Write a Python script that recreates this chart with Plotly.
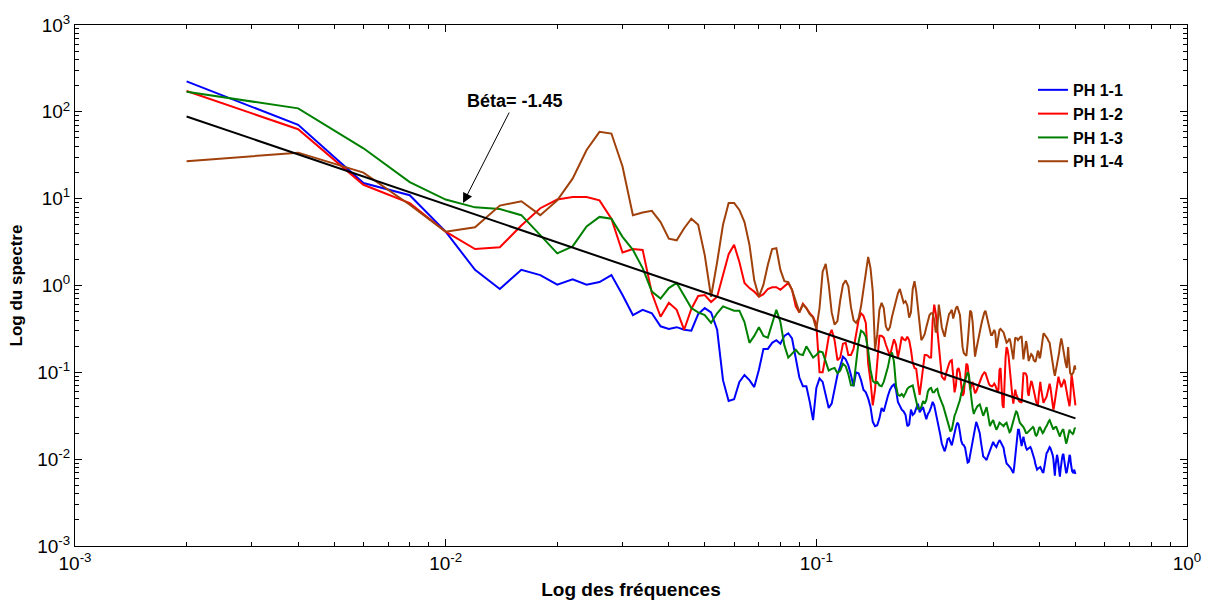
import numpy as np
import plotly.graph_objects as go

# Frequency grid: 250 harmonics with a step of 0.002
freq_step = 0.002
n_points = 250
freqs = freq_step * np.arange(1, n_points + 1)

# log10 of the spectrum for each profile
log_ph11 = [
    2.35, 1.85, 1.18, 1.04, 0.62, 0.18, -0.04, 0.18, 0.12, 0.01,
    0.07, 0.01, 0.04, 0.12, -0.11, -0.34, -0.28, -0.32, -0.47, -0.50,
    -0.48, -0.51, -0.52, -0.33, -0.26, -0.31, -0.51, -1.09, -1.33, -1.31,
    -1.11, -1.03, -1.09, -1.17, -0.97, -0.73, -0.73, -0.66, -0.63, -0.67,
    -0.58, -0.55, -0.61, -0.86, -1.06, -1.16, -1.16, -1.34, -1.55, -1.18,
    -1.07, -1.11, -1.27, -1.41, -1.36, -1.18, -1.03, -0.93, -0.82, -0.85,
    -0.92, -1.03, -1.16, -1.00, -1.01, -1.09, -1.20, -1.23, -1.30, -1.40,
    -1.57, -1.62, -1.61, -1.53, -1.41, -1.45, -1.35, -1.27, -1.20, -1.16,
    -1.14, -1.20, -1.34, -1.39, -1.43, -1.45, -1.49, -1.62, -1.60, -1.43,
    -1.49, -1.47, -1.42, -1.36, -1.46, -1.43, -1.40, -1.47, -1.54, -1.48,
    -1.45, -1.40, -1.34, -1.38, -1.46, -1.54, -1.63, -1.72, -1.82, -1.86,
    -1.91, -1.85, -1.77, -1.76, -1.80, -1.84, -1.77, -1.69, -1.63, -1.58,
    -1.60, -1.69, -1.79, -1.83, -1.84, -1.87, -1.96, -2.04, -2.03, -1.95,
    -1.91, -1.80, -1.72, -1.64, -1.57, -1.61, -1.65, -1.70, -1.80, -1.89,
    -1.97, -1.98, -2.00, -2.01, -1.97, -1.93, -1.89, -1.86, -1.83, -1.80,
    -1.83, -1.85, -1.86, -1.83, -1.80, -1.78, -1.80, -1.83, -1.85, -1.87,
    -1.94, -2.00, -2.05, -2.06, -2.07, -2.08, -2.10, -2.12, -2.15, -2.16,
    -2.08, -1.99, -1.89, -1.80, -1.66, -1.66, -1.74, -1.82, -1.85, -1.79,
    -1.74, -1.79, -1.84, -1.87, -1.89, -1.88, -1.87, -1.86, -1.86, -1.88,
    -1.91, -1.93, -1.96, -2.01, -2.06, -2.10, -2.12, -2.11, -2.10, -2.09,
    -2.09, -2.11, -2.14, -2.15, -2.15, -2.09, -2.03, -1.97, -1.93, -1.92,
    -1.89, -1.88, -1.86, -1.87, -1.89, -1.93, -1.95, -2.00, -2.12, -2.19,
    -2.07, -1.95, -1.95, -1.99, -2.05, -2.12, -2.20, -2.12, -2.03, -1.99,
    -1.95, -1.94, -2.00, -2.07, -2.11, -2.16, -2.15, -2.11, -2.08, -2.01,
    -1.95, -1.97, -2.05, -2.11, -2.14, -2.15, -2.16, -2.12, -2.15, -2.17,
]

log_ph12 = [
    2.24, 1.80, 1.16, 0.95, 0.62, 0.42, 0.44, 0.69, 0.89, 0.99,
    1.02, 1.02, 0.98, 0.77, 0.38, 0.42, 0.41, -0.09, -0.36, -0.20,
    -0.28, -0.51, -0.27, -0.12, -0.11, -0.19, -0.13, 0.12, 0.36, 0.47,
    0.27, 0.03, -0.03, -0.07, -0.13, -0.10, -0.04, -0.02, -0.02, -0.05,
    -0.01, 0.03, -0.05, -0.24, -0.31, -0.21, -0.26, -0.32, -0.36, -0.45,
    -1.00, -1.00, -0.80, -0.59, -0.51, -0.63, -0.86, -0.83, -0.67, -0.66,
    -0.80, -0.80, -0.73, -0.57, -0.40, -0.32, -0.35, -0.43, -0.90, -1.10,
    -1.38, -1.20, -0.88, -0.58, -0.58, -0.60, -0.68, -0.75, -0.81, -0.71,
    -0.62, -0.68, -0.83, -0.72, -0.59, -0.62, -0.63, -0.59, -0.63, -0.74,
    -0.89, -0.95, -0.96, -1.12, -1.26, -1.11, -0.95, -0.80, -0.80, -0.81,
    -0.83, -0.83, -0.40, -0.22, -0.32, -0.51, -0.77, -0.92, -1.05, -1.07,
    -1.09, -1.01, -0.95, -0.90, -0.87, -0.86, -1.04, -1.23, -1.15, -0.97,
    -0.95, -1.01, -1.15, -1.27, -1.24, -1.07, -0.90, -0.92, -1.07, -1.20,
    -1.15, -1.11, -1.18, -1.24, -1.22, -1.18, -1.16, -1.12, -1.08, -1.04,
    -1.02, -1.00, -1.01, -1.05, -1.11, -1.13, -1.15, -1.16, -1.16, -1.15,
    -1.13, -1.15, -1.18, -1.22, -1.20, -0.97, -0.95, -1.18, -1.38, -1.41,
    -1.03, -0.83, -0.71, -0.74, -0.81, -0.95, -1.09, -1.19, -1.28, -1.36,
    -1.27, -1.20, -1.25, -1.28, -1.32, -1.33, -1.34, -1.34, -1.35, -1.15,
    -1.01, -1.01, -1.01, -1.02, -1.05, -1.23, -1.27, -1.20, -1.16, -1.10,
    -1.12, -1.17, -1.23, -1.28, -1.32, -1.34, -1.36, -1.39, -1.27, -1.13,
    -1.11, -1.19, -1.26, -1.32, -1.35, -1.33, -1.32, -1.30, -1.28, -1.24,
    -1.20, -1.17, -1.13, -1.17, -1.24, -1.32, -1.38, -1.43, -1.39, -1.33,
    -1.28, -1.25, -1.18, -1.10, -1.05, -1.09, -1.11, -1.15, -1.17, -1.15,
    -1.12, -1.10, -1.09, -1.10, -1.15, -1.22, -1.25, -1.30, -1.32, -1.35,
    -1.39, -1.32, -1.18, -1.03, -1.07, -1.13, -1.18, -1.23, -1.30, -1.38,
]

log_ph13 = [
    2.23, 2.04, 1.58, 1.19, 0.99, 0.90, 0.88, 0.81, 0.58, 0.37,
    0.45, 0.68, 0.79, 0.77, 0.56, 0.41, 0.20, -0.07, -0.15, -0.03,
    0.03, -0.11, -0.26, -0.31, -0.34, -0.43, -0.32, -0.24, -0.27, -0.29,
    -0.29, -0.42, -0.66, -0.58, -0.48, -0.58, -0.60, -0.44, -0.28, -0.42,
    -0.69, -0.83, -0.78, -0.74, -0.79, -0.80, -0.70, -0.77, -0.83, -0.80,
    -0.76, -0.77, -0.89, -0.98, -0.96, -0.95, -1.01, -0.98, -0.90, -0.93,
    -1.02, -1.15, -1.15, -0.92, -0.65, -0.52, -0.54, -0.59, -0.75, -0.97,
    -1.10, -1.12, -1.11, -1.15, -1.16, -1.11, -1.03, -0.94, -0.82, -0.77,
    -0.88, -1.15, -1.26, -1.27, -1.25, -1.28, -1.24, -1.19, -1.17, -1.16,
    -1.15, -1.24, -1.34, -1.42, -1.42, -1.40, -1.33, -1.36, -1.32, -1.22,
    -1.19, -1.18, -1.23, -1.23, -1.20, -1.19, -1.26, -1.32, -1.35, -1.39,
    -1.45, -1.49, -1.56, -1.64, -1.68, -1.66, -1.56, -1.50, -1.46, -1.41,
    -1.36, -1.32, -1.24, -1.19, -1.13, -1.08, -1.02, -1.00, -1.03, -1.20,
    -1.30, -1.41, -1.48, -1.44, -1.41, -1.39, -1.38, -1.37, -1.41, -1.47,
    -1.50, -1.47, -1.44, -1.40, -1.47, -1.55, -1.62, -1.59, -1.56, -1.55,
    -1.59, -1.63, -1.66, -1.64, -1.60, -1.58, -1.59, -1.60, -1.62, -1.62,
    -1.60, -1.59, -1.58, -1.62, -1.65, -1.69, -1.68, -1.63, -1.58, -1.55,
    -1.52, -1.48, -1.45, -1.46, -1.49, -1.54, -1.58, -1.59, -1.60, -1.62,
    -1.63, -1.65, -1.68, -1.70, -1.70, -1.69, -1.68, -1.66, -1.66, -1.64,
    -1.63, -1.63, -1.64, -1.69, -1.72, -1.73, -1.72, -1.69, -1.65, -1.63,
    -1.64, -1.66, -1.69, -1.70, -1.69, -1.66, -1.64, -1.63, -1.62, -1.59,
    -1.57, -1.56, -1.55, -1.57, -1.60, -1.63, -1.65, -1.66, -1.64, -1.63,
    -1.63, -1.63, -1.65, -1.69, -1.71, -1.73, -1.74, -1.71, -1.69, -1.68,
    -1.66, -1.66, -1.70, -1.74, -1.79, -1.82, -1.80, -1.76, -1.72, -1.69,
    -1.66, -1.68, -1.69, -1.70, -1.71, -1.71, -1.70, -1.66, -1.64, -1.65,
]

log_ph14 = [
    1.43, 1.53, 1.30, 0.93, 0.62, 0.67, 0.92, 0.97, 0.81, 0.98,
    1.23, 1.56, 1.77, 1.75, 1.37, 0.81, 0.84, 0.86, 0.73, 0.54,
    0.52, 0.66, 0.77, 0.70, 0.35, -0.13, 0.27, 0.70, 0.95, 0.95,
    0.87, 0.73, 0.47, 0.06, -0.13, 0.01, 0.24, 0.42, 0.43, 0.18,
    0.05, 0.04, -0.05, -0.18, -0.31, -0.22, -0.26, -0.33, -0.37, -0.50,
    -0.26, 0.16, 0.25, 0.01, -0.31, -0.45, -0.41, -0.17, 0.01, 0.06,
    -0.01, -0.25, -0.40, -0.43, -0.38, -0.24, -0.04, 0.17, 0.33, 0.20,
    -0.07, -0.74, -0.56, -0.28, -0.20, -0.26, -0.47, -0.52, -0.48, -0.36,
    -0.26, -0.17, -0.09, -0.04, -0.12, -0.20, -0.18, -0.23, -0.37, -0.31,
    -0.04, 0.05, -0.07, -0.25, -0.45, -0.63, -0.60, -0.56, -0.48, -0.41,
    -0.34, -0.32, -0.32, -0.40, -0.54, -0.51, -0.22, -0.34, -0.48, -0.54,
    -0.59, -0.49, -0.40, -0.33, -0.31, -0.28, -0.38, -0.32, -0.26, -0.24,
    -0.28, -0.34, -0.52, -0.71, -0.78, -0.80, -0.81, -0.66, -0.47, -0.29,
    -0.31, -0.42, -0.63, -0.82, -0.74, -0.66, -0.60, -0.54, -0.47, -0.41,
    -0.35, -0.31, -0.29, -0.35, -0.40, -0.44, -0.50, -0.57, -0.57, -0.54,
    -0.51, -0.55, -0.72, -0.66, -0.58, -0.51, -0.50, -0.51, -0.52, -0.54,
    -0.58, -0.63, -0.66, -0.65, -0.63, -0.61, -0.65, -0.73, -0.80, -0.85,
    -0.72, -0.60, -0.61, -0.61, -0.63, -0.61, -0.60, -0.59, -0.59, -0.72,
    -0.85, -0.78, -0.70, -0.64, -0.69, -0.81, -0.87, -0.84, -0.81, -0.79,
    -0.80, -0.82, -0.86, -0.88, -0.88, -0.84, -0.79, -0.75, -0.77, -0.84,
    -0.82, -0.75, -0.65, -0.58, -0.55, -0.56, -0.57, -0.58, -0.59, -0.61,
    -0.63, -0.65, -0.66, -0.72, -0.79, -0.86, -0.90, -0.95, -1.00, -1.04,
    -1.00, -0.96, -0.93, -0.88, -0.82, -0.77, -0.70, -0.64, -0.61, -0.65,
    -0.69, -0.72, -0.78, -0.84, -0.89, -0.95, -0.95, -0.82, -0.71, -0.84,
    -0.95, -1.01, -1.02, -1.03, -1.02, -1.01, -1.00, -0.95, -0.92, -0.97,
]

series_names = ["PH 1-1", "PH 1-2", "PH 1-3", "PH 1-4"]
series_colors = ["#0000FF", "#FF0000", "#008000", "#A0400A"]
series_logs = [log_ph11, log_ph12, log_ph13, log_ph14]

# Power-law fit  S(f) = A * f**beta
beta = -1.45
fit_amplitude = 0.0108

FONT = "Liberation Sans, Arial, sans-serif"

fig = go.Figure()

for name, color, logs in zip(series_names, series_colors, series_logs):
    fig.add_trace(go.Scatter(
        x=freqs, y=np.power(10.0, logs), mode="lines", name=name,
        line=dict(color=color, width=2),
    ))

fit_f = np.array([freqs[0], freqs[-1]])
fig.add_trace(go.Scatter(
    x=fit_f, y=fit_amplitude * fit_f ** beta, mode="lines",
    line=dict(color="black", width=2), showlegend=False,
))

decades = [-3, -2, -1, 0, 1, 2, 3]
minor_x = [m * 10.0 ** d for d in range(-3, 0) for m in range(2, 10)]
minor_y = [m * 10.0 ** d for d in range(-3, 3) for m in range(2, 10)]

axis_common = dict(
    type="log", showgrid=False, zeroline=False, automargin=False,
    showline=True, linecolor="black", linewidth=1, mirror="ticks",
    ticks="inside", ticklen=7, tickcolor="black", tickwidth=1,
    tickfont=dict(family=FONT, size=19, color="black"),
)

fig.update_xaxes(
    **axis_common,
    range=[-3, 0],
    tickvals=[10.0 ** d for d in decades[:4]],
    ticktext=["10<sup>%d</sup>" % d for d in decades[:4]],
    minor=dict(tickvals=minor_x, ticks="inside", ticklen=4,
               tickcolor="black", tickwidth=1, showgrid=False),
    title=dict(text="<b>Log des fréquences</b>", standoff=11,
               font=dict(family=FONT, size=19, color="black")),
)
fig.update_yaxes(
    **axis_common,
    range=[-3, 3],
    tickvals=[10.0 ** d for d in decades],
    ticktext=["10<sup>%d</sup>" % d for d in decades],
    minor=dict(tickvals=minor_y, ticks="inside", ticklen=4,
               tickcolor="black", tickwidth=1, showgrid=False),
    title=dict(text="<b>Log du spectre</b>", standoff=10,
               font=dict(family=FONT, size=17, color="black")),
)

fig.add_annotation(
    x=np.log10(0.01114), y=np.log10(8.9), xref="x", yref="y",
    ax=52, ay=-102, axref="pixel", ayref="pixel",
    text="<b>Béta= %.2f</b>" % beta,
    font=dict(family=FONT, size=18, color="black"),
    showarrow=True, arrowhead=2, arrowsize=2, arrowwidth=1,
    arrowcolor="black",
)

fig.update_layout(
    width=1207, height=600,
    margin=dict(l=75, r=20, t=25, b=54),
    paper_bgcolor="white", plot_bgcolor="white",
    font=dict(family=FONT, color="black"),
    legend=dict(
        x=0.8615, y=0.908, xanchor="left", yanchor="top",
        bgcolor="rgba(0,0,0,0)", borderwidth=0,
        font=dict(family=FONT, size=16, color="black", weight="bold"),
        tracegroupgap=0,
    ),
)

fig.write_html("out.html")
